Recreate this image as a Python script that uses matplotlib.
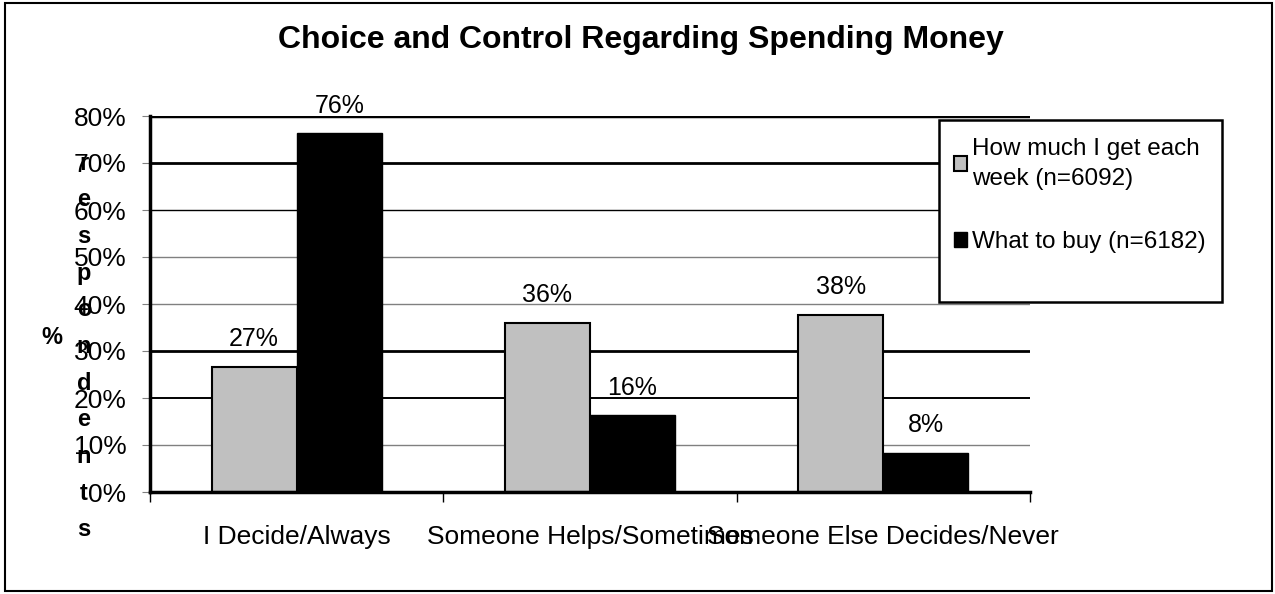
import numpy as np
import matplotlib.pyplot as plt
from matplotlib.patches import Rectangle

plt.rcParams['font.family'] = ['Liberation Sans', 'DejaVu Sans']

# data
categories = ["I Decide/Always", "Someone Helps/Sometimes", "Someone Else Decides/Never"]
series_names = ["How much I get each\nweek (n=6092)", "What to buy (n=6182)"]
how_much = [26.6, 36.0, 37.7]
what_to_buy = [76.3, 16.3, 8.3]
y_ticks = [0, 10, 20, 30, 40, 50, 60, 70, 80]

W, H = 1275, 594
fig = plt.figure(figsize=(W / 100, H / 100), dpi=100)
ax = fig.add_axes([150 / W, 1 - 492 / H, 880 / W, 376 / H])

# gridlines (excel rendering makes them uneven)
grid_style = {10: ('#808080', 1.0), 20: ('black', 1.4), 30: ('black', 2.0), 40: ('#808080', 1.0),
              50: ('#808080', 1.0), 60: ('black', 1.0), 70: ('black', 2.0), 80: ('black', 2.5)}
for v, (c, lw) in grid_style.items():
    ax.axhline(v, color=c, lw=lw, zorder=0)

x = np.arange(len(categories))
bw = 0.29
b1 = ax.bar(x - bw / 2, how_much, bw, color='#C0C0C0', edgecolor='black', lw=1.5,
            label=series_names[0], zorder=2)
b2 = ax.bar(x + bw / 2, what_to_buy, bw, color='black', edgecolor='black', lw=1,
            label=series_names[1], zorder=2)

for bars, vals in [(b1, how_much), (b2, what_to_buy)]:
    for r, v in zip(bars, vals):
        ax.annotate("{:.0f}%".format(v), (r.get_x() + r.get_width() / 2, v),
                    xytext=(0, 20), textcoords='offset points', ha='center', va='center',
                    fontsize=18, zorder=3)

ax.set_xlim(-0.5, 2.5)
ax.set_ylim(0, 80)
ax.set_yticks(y_ticks)
ax.set_yticklabels(["{}%".format(t) for t in y_ticks], fontsize=19)
ax.tick_params(axis='y', length=6, color='#808080', pad=11)

ax.set_xticks(x)
ax.set_xticklabels(categories, fontsize=19)
ax.set_xticks([-0.5, 0.5, 1.5, 2.5], minor=True)
ax.tick_params(axis='x', which='major', length=0, pad=24)
ax.tick_params(axis='x', which='minor', length=7, color='black', width=1)

for s in ['top', 'right']:
    ax.spines[s].set_visible(False)
ax.spines['left'].set_linewidth(2.5)
ax.spines['bottom'].set_linewidth(2.5)

# stacked y label
ylab = "respondents"
for i, ch in enumerate(ylab):
    fig.text(84 / W, 1 - (163 + i * 36.7) / H, ch, ha='center', va='center',
             fontsize=17, fontweight='bold')
fig.text(52 / W, 1 - 338 / H, "%", ha='center', va='center', fontsize=17, fontweight='bold')

fig.text(641 / W, 1 - 40 / H, "Choice and Control Regarding Spending Money",
         ha='center', va='center', fontsize=23, fontweight='bold')

# legend box drawn separately, excel leaves extra room at the bottom
fig.patches.append(Rectangle((939 / W, 1 - 302 / H), 283 / W, 182 / H, transform=fig.transFigure,
                             facecolor='white', edgecolor='black', lw=1.8, zorder=4))
leg = fig.legend(handles=[b1, b2], loc='upper left',
                 bbox_to_anchor=(954 / W, 1 - 138 / H),
                 fontsize=17.5, frameon=False,
                 handlelength=0.55, handleheight=0.55, handletextpad=0.2,
                 labelspacing=1.7, borderpad=0, borderaxespad=0)
leg.set_zorder(5)
for t in leg.get_texts():
    t.set_linespacing(1.45)

fig.patches.append(Rectangle((5 / W, 3 / H), 1267 / W, 588 / H, transform=fig.transFigure,
                             fill=False, edgecolor='black', lw=1.5))

fig.savefig("out.png", dpi=100)
